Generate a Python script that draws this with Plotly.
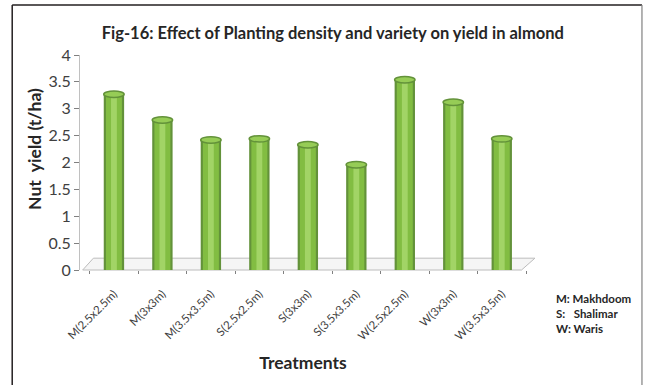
import plotly.graph_objects as go

# Treatments (variety + planting distance) and nut yield in t/ha
treatments = ["M(2.5x2.5m)", "M(3x3m)", "M(3.5x3.5m)", "S(2.5x2.5m)", "S(3x3m)",
              "S(3.5x3.5m)", "W(2.5x2.5m)", "W(3x3m)", "W(3.5x3.5m)"]
nut_yield = [3.28, 2.80, 2.43, 2.45, 2.34, 1.97, 3.55, 3.13, 2.45]
y_ticks = [0, 0.5, 1, 1.5, 2, 2.5, 3, 3.5, 4]
y_tick_text = ["0", "0.5", "1", "1.5", "2", "2.5", "3", "3.5", "4"]

TXT = "#404040"
DARK = "#262626"
FONT = "Lato"

fig = go.Figure()

# Cylinder-like columns: dark rim, green body, light highlight strip
for width, color in [(0.42, "#63923a"), (0.33, "#82bd42"), (0.12, "#a2d466")]:
    fig.add_trace(go.Bar(x=treatments, y=nut_yield, width=width,
                         marker=dict(color=color, line=dict(width=0)),
                         hoverinfo="skip", showlegend=False))

shapes = []
# Elliptical caps on top of each column
for i, v in enumerate(nut_yield):
    shapes.append(dict(type="circle", xref="x", yref="y",
                       x0=i - 0.21, x1=i + 0.21, y0=v - 0.07, y1=v + 0.05,
                       fillcolor="#96cc56", line=dict(color="#63923a", width=1.5),
                       layer="above"))

# Floor of the 3D plot area
shapes.append(dict(type="path", xref="paper", yref="paper",
                   path="M 0.006 0.0 L 0.99 0.0 L 1.02 0.055 L 0.03 0.055 Z",
                   fillcolor="rgba(238,238,238,0.6)", line=dict(color="#bcbcbc", width=1),
                   layer="below"))
# Outer frame (top and left dark, right edge grey)
shapes.append(dict(type="line", xref="paper", yref="paper",
                   x0=-0.152, x1=1.26, y0=1.233, y1=1.233,
                   line=dict(color="#231f20", width=1.5)))
shapes.append(dict(type="line", xref="paper", yref="paper",
                   x0=-0.152, x1=-0.152, y0=1.233, y1=-0.6,
                   line=dict(color="#231f20", width=1.5)))
shapes.append(dict(type="line", xref="paper", yref="paper",
                   x0=1.26, x1=1.26, y0=1.233, y1=-0.6,
                   line=dict(color="#808080", width=1.2)))

fig.update_layout(
    width=645, height=385,
    margin=dict(l=80, r=119, t=55, b=115),
    paper_bgcolor="white", plot_bgcolor="white",
    barmode="overlay",
    shapes=shapes,
    title=dict(text="<b>Fig-16: Effect of Planting density and variety on yield in almond</b>",
               x=0.516, xanchor="center", y=0.915, yanchor="middle",
               font=dict(family=FONT, size=16.5, color=DARK)),
    font=dict(family=FONT, color=TXT),
)

fig.update_xaxes(
    type="category", range=[-0.7, 8.5],
    tickangle=-45, tickfont=dict(family=FONT, size=11.5, color=TXT),
    ticks="outside", ticklen=3, tickcolor="#808080", tickson="boundaries",
    ticklabelstandoff=14,
    showline=False, showgrid=False,
    title=dict(text="<b>Treatments</b>", font=dict(family=FONT, size=17.5, color=DARK),
               standoff=15),
)
fig.update_yaxes(
    range=[0, 4], tickvals=y_ticks, ticktext=y_tick_text,
    tickfont=dict(family=FONT, size=16, color=TXT),
    ticks="outside", ticklen=5, tickcolor="#808080",
    showline=True, linecolor="#c0c0c0", linewidth=1,
    showgrid=False, zeroline=False,
)

# Y-axis title placed so it sits close against the tick labels
fig.add_annotation(
    xref="paper", yref="paper", x=-0.101, y=0.563, xanchor="center", yanchor="middle",
    textangle=-90, showarrow=False,
    text="<b>Nut  yield (t/ha)</b>",
    font=dict(family=FONT, size=17.5, color=DARK),
)

# Variety key
fig.add_annotation(
    xref="paper", yref="paper", x=1.062, y=-0.095, xanchor="left", yanchor="top",
    align="left", showarrow=False,
    text="<b>M: Makhdoom<br>S:   Shalimar<br>W: Waris</b>",
    font=dict(family=FONT, size=11.5, color=DARK),
)

fig.write_html("out.html")
